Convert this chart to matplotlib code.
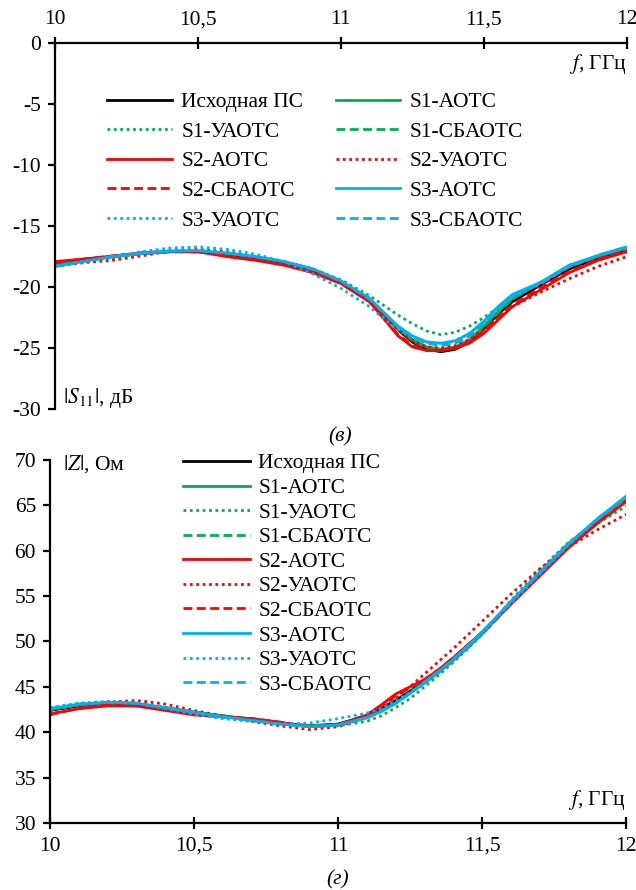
import matplotlib
matplotlib.use('Agg')
import matplotlib.pyplot as plt

plt.rcParams['font.family'] = ['Liberation Serif', 'DejaVu Serif']
plt.rcParams['mathtext.fontset'] = 'stix'
plt.rcParams['axes.unicode_minus'] = False

# frequency grid, GHz
freq = [10.0, 10.1, 10.2, 10.3, 10.4, 10.5, 10.6, 10.7, 10.8, 10.9, 11.0, 11.1, 11.15,
        11.2, 11.25, 11.3, 11.35, 11.4, 11.45, 11.5, 11.55, 11.6, 11.7, 11.8, 11.9, 12.0]

labels = ['Исходная ПС', 'S1-АОТС', 'S1-УАОТС', 'S1-СБАОТС', 'S2-АОТС',
          'S2-УАОТС', 'S2-СБАОТС', 'S3-АОТС', 'S3-УАОТС', 'S3-СБАОТС']

# |S11|, dB
s11_orig = [-18.1, -17.8, -17.5, -17.25, -17.1, -17.1, -17.3, -17.6, -18.0, -18.6, -19.6, -21.1, -22.2,
            -23.5, -24.5, -25.1, -25.3, -25.1, -24.5, -23.4, -22.2, -21.2, -19.8, -18.5, -17.6, -16.9]
s11_s1_a = [-18.2, -17.8, -17.5, -17.25, -17.1, -17.1, -17.25, -17.55, -17.95, -18.5, -19.5, -21.0, -22.1,
            -23.3, -24.3, -24.9, -25.1, -24.9, -24.3, -23.2, -22.0, -20.9, -19.6, -18.2, -17.5, -16.8]
s11_s1_u = [-18.2, -17.9, -17.6, -17.3, -17.1, -17.0, -17.2, -17.5, -17.9, -18.5, -19.4, -20.7, -21.5,
            -22.3, -23.0, -23.6, -23.9, -23.7, -23.2, -22.5, -21.7, -20.9, -19.6, -18.3, -17.5, -16.9]
s11_s1_sb = [-18.2, -17.8, -17.5, -17.25, -17.1, -17.1, -17.3, -17.6, -18.0, -18.6, -19.6, -21.0, -22.1,
             -23.4, -24.4, -25.0, -25.2, -25.0, -24.4, -23.3, -22.1, -21.0, -19.6, -18.3, -17.5, -16.8]
s11_s2_a = [-17.9, -17.7, -17.45, -17.2, -17.05, -17.1, -17.5, -17.8, -18.2, -18.8, -19.7, -21.2, -22.6,
            -24.0, -24.9, -25.2, -25.2, -25.0, -24.6, -23.8, -22.7, -21.6, -20.2, -18.8, -17.8, -17.1]
s11_s2_u = [-18.3, -18.0, -17.8, -17.45, -17.05, -16.9, -17.1, -17.5, -17.9, -18.5, -19.5, -21.0, -22.2,
            -23.5, -24.4, -24.9, -25.0, -24.8, -24.3, -23.5, -22.5, -21.6, -20.4, -19.3, -18.3, -17.5]
s11_s2_sb = [-18.0, -17.7, -17.45, -17.2, -17.05, -17.1, -17.4, -17.7, -18.1, -18.7, -19.7, -21.2, -22.5,
             -23.9, -24.8, -25.2, -25.2, -25.0, -24.5, -23.6, -22.5, -21.5, -20.0, -18.7, -17.7, -17.0]
s11_s3_a = [-18.3, -17.9, -17.5, -17.25, -17.05, -17.0, -17.2, -17.5, -17.9, -18.5, -19.5, -20.9, -22.1,
            -23.2, -24.0, -24.5, -24.6, -24.4, -23.8, -22.8, -21.6, -20.6, -19.6, -18.2, -17.4, -16.7]
s11_s3_u = [-18.3, -17.9, -17.5, -17.1, -16.8, -16.7, -16.9, -17.3, -17.9, -18.9, -20.1, -21.6, -22.6,
            -23.5, -24.1, -24.5, -24.6, -24.4, -23.8, -22.9, -21.8, -20.8, -19.7, -18.3, -17.4, -16.8]
s11_s3_sb = [-18.3, -17.9, -17.5, -17.25, -17.05, -17.0, -17.2, -17.5, -17.9, -18.5, -19.5, -21.0, -22.1,
             -23.3, -24.1, -24.6, -24.8, -24.6, -24.0, -23.0, -21.8, -20.8, -19.7, -18.3, -17.4, -16.7]

# |Z|, Ohm
z_orig = [42.4, 42.9, 43.2, 43.1, 42.7, 42.2, 41.8, 41.4, 41.0, 40.7, 40.9, 41.8, 42.6,
          43.5, 44.5, 45.6, 46.8, 48.1, 49.5, 51.0, 52.6, 54.3, 57.5, 60.6, 63.4, 65.9]
z_s1_a = [42.5, 43.0, 43.2, 43.1, 42.7, 42.2, 41.8, 41.4, 41.0, 40.7, 40.8, 41.6, 42.3,
          43.2, 44.3, 45.4, 46.6, 47.9, 49.3, 50.8, 52.5, 54.3, 57.6, 60.8, 63.4, 65.8]
z_s1_u = [42.5, 43.0, 43.2, 43.1, 42.7, 42.2, 41.8, 41.4, 41.0, 40.7, 40.7, 41.2, 41.8,
          42.7, 43.7, 45.0, 46.3, 47.7, 49.2, 50.8, 52.6, 54.5, 57.9, 60.9, 63.0, 64.9]
z_s1_sb = [42.5, 43.0, 43.2, 43.1, 42.7, 42.2, 41.8, 41.4, 41.0, 40.7, 40.8, 41.6, 42.3,
           43.2, 44.3, 45.4, 46.6, 47.9, 49.3, 50.8, 52.4, 54.2, 57.5, 60.7, 63.4, 65.8]
z_s2_a = [42.0, 42.6, 42.9, 42.9, 42.4, 41.9, 41.7, 41.5, 41.1, 40.6, 40.8, 41.9, 43.0,
          44.2, 45.0, 45.8, 46.9, 48.2, 49.6, 51.0, 52.5, 54.1, 57.2, 60.3, 63.0, 65.4]
z_s2_u = [41.9, 42.7, 43.3, 43.5, 43.1, 42.4, 41.8, 41.2, 40.7, 40.3, 40.6, 41.7, 42.6,
          43.7, 45.0, 46.4, 47.8, 49.2, 50.7, 52.2, 53.7, 55.2, 58.0, 60.4, 62.3, 64.0]
z_s2_sb = [42.0, 42.6, 43.0, 42.9, 42.5, 42.0, 41.7, 41.5, 41.1, 40.6, 40.8, 41.9, 42.9,
           44.0, 44.9, 45.8, 46.9, 48.2, 49.6, 51.0, 52.5, 54.1, 57.3, 60.4, 63.1, 65.5]
z_s3_a = [42.6, 43.1, 43.3, 43.2, 42.7, 42.2, 41.7, 41.3, 40.9, 40.6, 40.8, 41.6, 42.3,
          43.2, 44.3, 45.5, 46.7, 48.0, 49.5, 51.0, 52.7, 54.4, 57.6, 60.7, 63.5, 66.0]
z_s3_u = [42.7, 43.2, 43.4, 43.2, 42.6, 42.0, 41.5, 41.2, 40.9, 41.0, 41.5, 42.1, 42.6,
          43.4, 44.4, 45.5, 46.7, 48.0, 49.4, 50.9, 52.5, 54.2, 57.4, 60.6, 63.4, 65.8]
z_s3_sb = [42.6, 43.1, 43.3, 43.2, 42.7, 42.2, 41.7, 41.3, 40.9, 40.6, 40.8, 41.6, 42.3,
           43.2, 44.3, 45.5, 46.7, 48.0, 49.5, 51.0, 52.6, 54.3, 57.5, 60.7, 63.5, 65.9]

x_ticks = [10, 10.5, 11, 11.5, 12]
x_ticklabels = ['10', '10,5', '11', '11,5', '12']
s11_ticks = [0, -5, -10, -15, -20, -25, -30]
z_ticks = [30, 35, 40, 45, 50, 55, 60, 65, 70]

s11_data = [s11_orig, s11_s1_a, s11_s1_u, s11_s1_sb, s11_s2_a,
            s11_s2_u, s11_s2_sb, s11_s3_a, s11_s3_u, s11_s3_sb]
z_data = [z_orig, z_s1_a, z_s1_u, z_s1_sb, z_s2_a,
          z_s2_u, z_s2_sb, z_s3_a, z_s3_u, z_s3_sb]

green, red, blue = '#00B050', '#FF0000', '#00B0F0'
colors = ['black', green, green, green, red, red, red, blue, blue, blue]
solid, dotted, dashed = '-', (0, (1, 1.3)), (0, (3.2, 1.6))
styles = [solid, solid, dotted, dashed, solid, dotted, dashed, solid, dotted, dashed]

fig = plt.figure(figsize=(6.36, 8.90), dpi=100)
ax1 = fig.add_axes([0.0865, 0.5404, 0.899, 0.411])
ax2 = fig.add_axes([0.0786, 0.0753, 0.9057, 0.4079])

FS = 15.5
lines1 = []
for y, c, ls, lab in zip(s11_data, colors, styles, labels):
    l, = ax1.plot(freq, y, color=c, linestyle=ls, linewidth=2.0, label=lab)
    lines1.append(l)
lines2 = []
for y, c, ls, lab in zip(z_data, colors, styles, labels):
    l, = ax2.plot(freq, y, color=c, linestyle=ls, linewidth=2.0, label=lab)
    lines2.append(l)

# top chart: x axis on top at 0 dB
ax1.set_xlim(10, 12)
ax1.set_ylim(-30, 0)
ax1.xaxis.tick_top()
ax1.set_xticks(x_ticks)
ax1.set_xticklabels(x_ticklabels)
ax1.set_yticks(s11_ticks)
ax1.set_yticklabels([str(v) for v in s11_ticks])
ax1.spines['right'].set_visible(False)
ax1.spines['bottom'].set_visible(False)

ax2.set_xlim(10, 12)
ax2.set_ylim(30, 70)
ax2.set_xticks(x_ticks)
ax2.set_xticklabels(x_ticklabels)
ax2.set_yticks(z_ticks)
ax2.set_yticklabels([str(v) for v in z_ticks])
ax2.spines['right'].set_visible(False)
ax2.spines['top'].set_visible(False)

for ax in (ax1, ax2):
    for s in ax.spines.values():
        s.set_linewidth(1.6)
    ax.tick_params(axis='x', direction='inout', length=8, width=1.6, labelsize=FS, pad=6)
    ax.tick_params(axis='y', direction='out', length=5, width=1.6, labelsize=FS, pad=5)

ax1.text(1.0, 0.943, '$f$, ГГц', transform=ax1.transAxes, ha='right', va='center', fontsize=FS)
ax1.text(0.014, 0.03, '$|S_{11}|$, дБ', transform=ax1.transAxes, ha='left', va='center', fontsize=FS)
ax2.text(1.0, 0.063, '$f$, ГГц', transform=ax2.transAxes, ha='right', va='center', fontsize=FS)
ax2.text(0.023, 0.99, '$|Z|$, Ом', transform=ax2.transAxes, ha='left', va='center', fontsize=FS)

# top legend: two columns, rows read left to right
order = [0, 2, 4, 6, 8, 1, 3, 5, 7, 9]
ax1.legend([lines1[i] for i in order], [labels[i] for i in order], ncol=2,
           loc='upper left', bbox_to_anchor=(0.091, 0.866), frameon=False,
           fontsize=FS, handlelength=3.0, handletextpad=0.45, columnspacing=1.5,
           labelspacing=0.44, borderpad=0, borderaxespad=0)
ax2.legend(lines2, labels, loc='upper left', bbox_to_anchor=(0.231, 1.018), frameon=False,
           fontsize=FS, handlelength=3.1, handletextpad=0.4, labelspacing=0.21,
           borderpad=0, borderaxespad=0)

fig.text(340 / 636, 1 - 437 / 890, '(в)', ha='center', va='center', fontsize=FS, style='italic')
fig.text(338 / 636, 1 - 880 / 890, '(г)', ha='center', va='center', fontsize=FS, style='italic')

fig.savefig('out.png', dpi=100)
